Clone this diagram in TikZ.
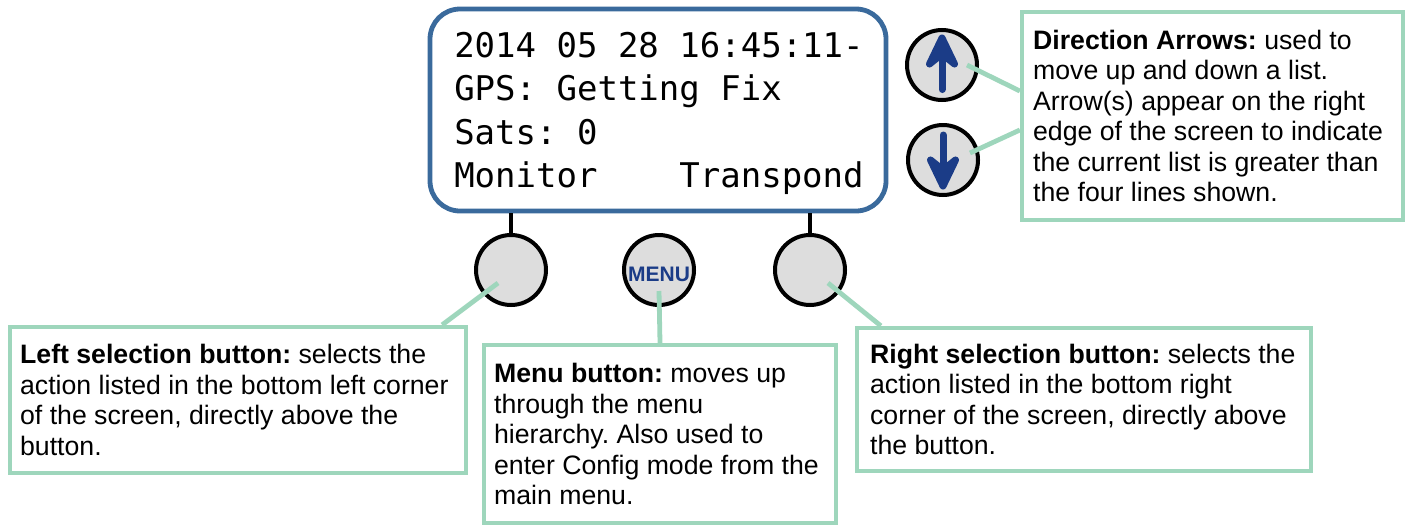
\documentclass[tikz,border=0pt]{standalone}
\usepackage{fontspec}
\setmainfont{Liberation Sans}
\newfontfamily\lcdfont{DejaVu Sans Mono}
\usetikzlibrary{arrows.meta}
\frenchspacing

\definecolor{lcdblue}{RGB}{58,106,156}
\definecolor{callgreen}{RGB}{158,214,188}
\definecolor{btngray}{RGB}{221,221,221}
\definecolor{arrowblue}{RGB}{27,60,135}

\begin{document}
\begin{tikzpicture}[x=0.75pt,y=-0.75pt,
  screen/.style={draw=lcdblue, line width=3.6pt, rounded corners=22.5pt, fill=white,
    minimum width=342pt, minimum height=151.5pt, inner sep=0},
  lcdline/.style={anchor=base west, inner sep=0, font=\lcdfont\fontsize{25.5}{30}\selectfont},
  button/.style={circle, draw=black, line width=3pt, fill=btngray, minimum size=52.5pt, inner sep=0},
  stem/.style={draw=black, line width=3pt},
  infobox/.style={draw=callgreen, line width=3.2pt, inner sep=0},
  infotext/.style={anchor=west, align=left, inner sep=0, font=\fontsize{20}{22.9}\selectfont},
  callout/.style={draw=callgreen, line width=3.6pt},
  dirarrow/.style={draw=arrowblue, fill=arrowblue, line width=5.25pt, line cap=round, line join=round}]

\useasboundingbox (0,0) rectangle (1409,525);

% display
\node[screen] (screen) at (658,110) {};
\node[lcdline] (lcd1) at (454,57)  {2014 05 28 16:45:11-};
\node[lcdline] (lcd2) at (454,100) {GPS: Getting Fix};
\node[lcdline] (lcd3) at (454,144) {Sats: 0};
\node[lcdline] (lcd4) at (454,187) {Monitor\hphantom{0000}Transpond};

% push buttons
\node[button] (leftbtn)  at (511,270) {};
\node[button, text=arrowblue, font=\bfseries\fontsize{15.75}{16}\selectfont] (menubtn) at (659,270)
  {\raisebox{-8.5pt}[0pt][0pt]{MENU}};
\node[button] (rightbtn) at (810,270) {};
\draw[stem] (leftbtn.north)  -- (leftbtn.north |- screen.south);
\draw[stem] (rightbtn.north) -- (rightbtn.north |- screen.south);

% arrow buttons
\node[button] (upbtn)   at (942,65)  {};
\node[button] (downbtn) at (943,160) {};
\begin{scope}[shift={(upbtn.center)}]
  \draw[dirarrow] (0,-15) -- (0,24.5);
  \filldraw[dirarrow] (0,-27) -- (-12.5,-1) -- (0,-11) -- (12.5,-1) -- cycle;
\end{scope}
\begin{scope}[shift={(downbtn.center)}]
  \draw[dirarrow] (0,-25) -- (0,15);
  \filldraw[dirarrow] (0,26) -- (-12.5,0) -- (0,10) -- (12.5,0) -- cycle;
\end{scope}

% description boxes
\node[infobox, minimum width=342pt, minimum height=109.5pt] (leftbox) at (238,400) {};
\node[infotext] (lefttext) at ([xshift=9pt]leftbox.west)
  {\textbf{Left selection button:} selects the\\
   action listed in the bottom left corner\\
   of the screen, directly above the\\
   button.};

\node[infobox, minimum width=264pt, minimum height=133.5pt] (menubox) at (660,434) {};
\node[infotext] (menutext) at ([xshift=9pt]menubox.west)
  {\textbf{Menu button:} moves up\\
   through the menu\\
   hierarchy. Also used to\\
   enter Config mode from the\\
   main menu.};

\node[infobox, minimum width=340.5pt, minimum height=107.25pt] (rightbox) at (1084,399.5) {};
\node[infotext] (righttext) at ([xshift=11.25pt]rightbox.west)
  {\textbf{Right selection button:} selects the\\
   action listed in the bottom right\\
   corner of the screen, directly above\\
   the button.};

\node[infobox, minimum width=285.75pt, minimum height=156pt] (dirbox) at (1212.5,116) {};
\node[infotext] (dirtext) at ([xshift=9.75pt]dirbox.west)
  {\textbf{Direction Arrows:} used to\\
   move up and down a list.\\
   Arrow(s) appear on the right\\
   edge of the screen to indicate\\
   the current list is greater than\\
   the four lines shown.};

% callout leaders
\draw[callout] ([xshift=-9.75pt,yshift=-9.75pt]leftbtn.center) -- ([xshift=-19.5pt]leftbox.north east);
\draw[callout] ([yshift=-15.75pt]menubtn.center) -- (menubox.north);
\draw[callout] ([xshift=13.5pt,yshift=-9.75pt]rightbtn.center) -- ([xshift=19.5pt]rightbox.north west);
\draw[callout] ([xshift=18.75pt]upbtn.center) -- ([yshift=18.75pt]dirbox.west);
\draw[callout] ([xshift=20.25pt,yshift=5.25pt]downbtn.center) -- ([yshift=-10.5pt]dirbox.west);

\end{tikzpicture}
\end{document}
